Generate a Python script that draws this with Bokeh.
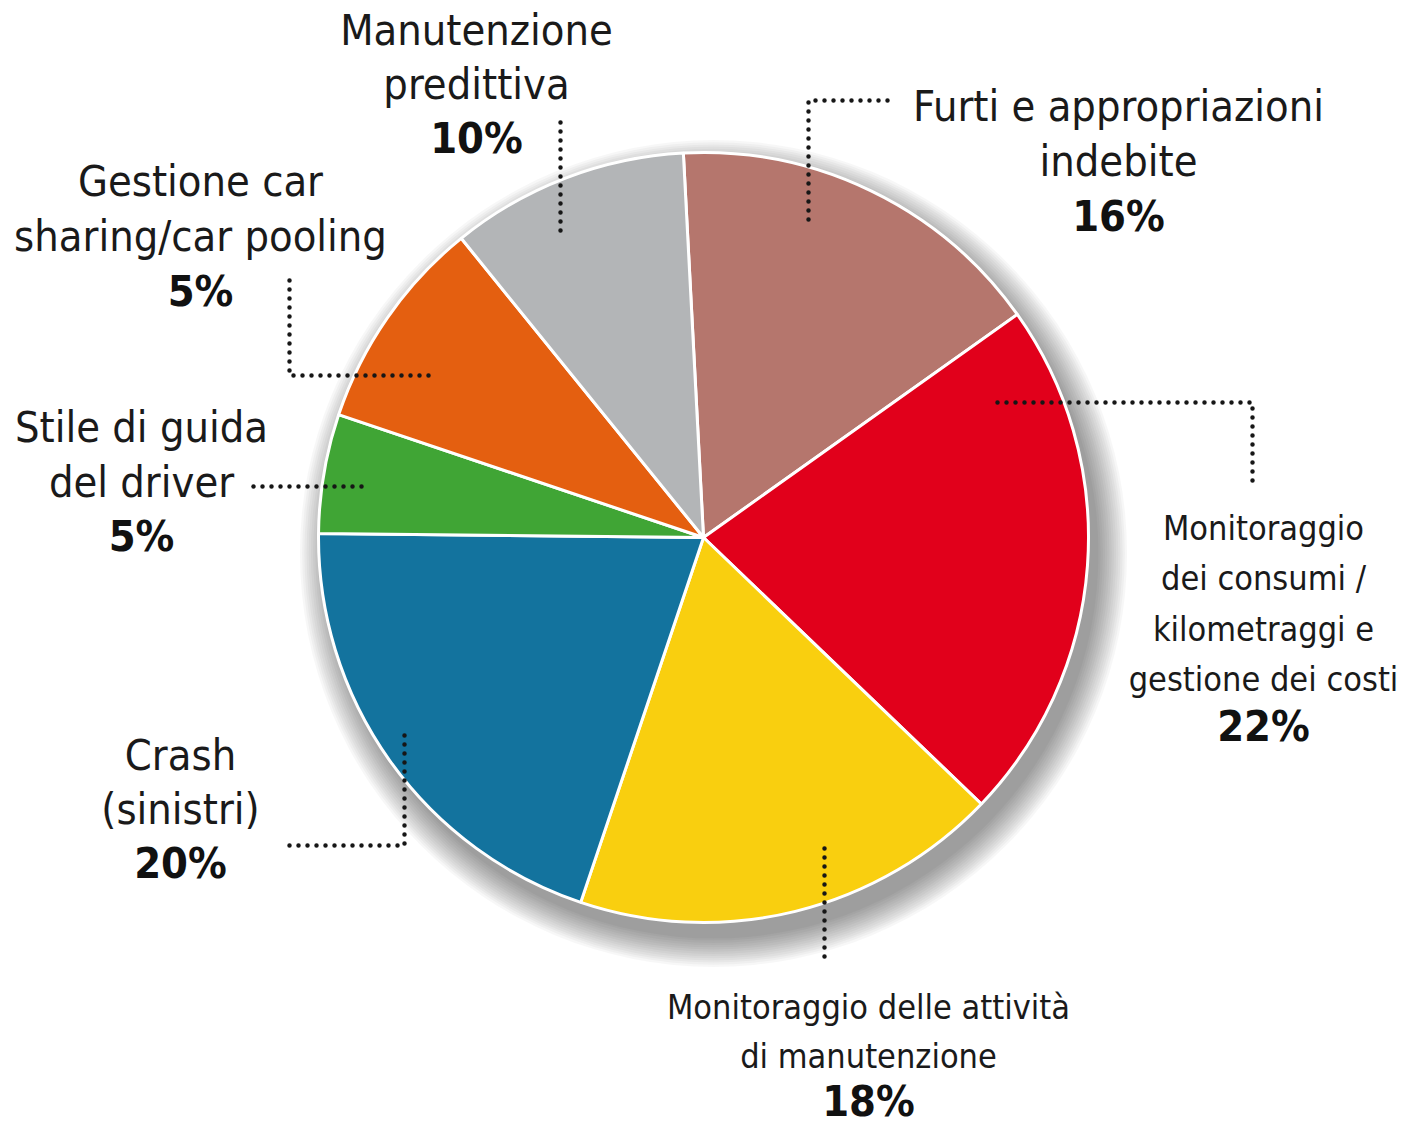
import math
from bokeh.plotting import figure
from bokeh.models import Range1d, ColumnDataSource
from bokeh.core.properties import value
from bokeh.embed import file_html
from bokeh.resources import INLINE

# ---------------- data (clockwise from 12 o'clock) ----------------
categories = [
    "Furti e appropriazioni\nindebite",
    "Monitoraggio\ndei consumi /\nkilometraggi e\ngestione dei costi",
    "Monitoraggio delle attività\ndi manutenzione",
    "Crash\n(sinistri)",
    "Stile di guida\ndel driver",
    "Gestione car\nsharing/car pooling",
    "Manutenzione\npredittiva",
]
# share of the circle that each slice occupies in the picture
shares = [16, 22, 18, 20, 5, 9, 10]
# percentages printed on the chart
pct_labels = ["16%", "22%", "18%", "20%", "5%", "5%", "10%"]

# ---------------- styles / layout ----------------
colors = ["#B5766D", "#E1001B", "#F9CF0F", "#13739E", "#40A535", "#E45F10", "#B3B5B7"]
W, H = 1406, 1125


def Y(py):
    return H - py


cx, cy, R = 703, Y(537), 385
top_deg = 93.0

# label anchors: centre x, first baseline (page px), line gap, font size
label_x = [1118, 1263, 868, 180, 141, 200, 476]
label_y0 = [123, 541, 1020, 772, 444, 198, 47]
label_gap = [55, 50.5, 49, 54, 54.5, 55, 54]
label_size = [43, 34, 34, 43, 43, 43, 43]
PCT_SIZE = 43
BASE_FIX = 0.4  # compensation of the renderer's baseline offset (in em)

# leader lines (page px)
leaders = [
    ([887, 808, 808], [100, 100, 222]),
    ([997, 1252, 1252], [402, 402, 482]),
    ([824, 824], [848, 960]),
    ([289, 404, 404], [845, 845, 733]),
    ([253, 368], [486, 486]),
    ([289, 289, 432], [280, 375, 375]),
    ([560, 560], [122, 235]),
]

FONT = "'DejaVu Sans Condensed', 'Liberation Sans Narrow', 'Roboto Condensed', 'Open Sans', sans-serif"

p = figure(width=W, height=H, x_range=Range1d(0, W), y_range=Range1d(0, H),
           output_backend="svg", toolbar_location=None,
           x_axis_type=None, y_axis_type=None, min_border=0)
p.grid.visible = False
p.outline_line_color = None
p.background_fill_color = "white"
p.border_fill_color = "white"

# soft drop shadow
for k in range(14):
    p.circle(x=cx + 10, y=cy - 16, radius=R + k * 2.2, fill_color="black",
             fill_alpha=0.032, line_color=None)

# wedges
total = float(sum(shares))
starts, ends = [], []
cum = 0.0
for s in shares:
    end = top_deg - cum / total * 360.0
    start = top_deg - (cum + s) / total * 360.0
    starts.append(math.radians(start))
    ends.append(math.radians(end))
    cum += s

src = ColumnDataSource(dict(cat=categories, share=shares, color=colors,
                            start=starts, end=ends))
p.wedge(x=cx, y=cy, radius=R, start_angle="start", end_angle="end",
        fill_color="color", line_color="white", line_width=3, source=src)

# leader lines
p.multi_line(xs=[l[0] for l in leaders], ys=[[Y(v) for v in l[1]] for l in leaders],
             line_color="#161616", line_width=4.5, line_dash="0 9", line_cap="round")

# labels
nx, ny, nt, ns = [], [], [], []
px_, py_, pt = [], [], []
for cat, pct, lx, ly, g, fs in zip(categories, pct_labels, label_x, label_y0,
                                   label_gap, label_size):
    lines = cat.split("\n")
    for i, ln in enumerate(lines):
        nx.append(lx)
        ny.append(Y(ly + i * g - BASE_FIX * fs))
        nt.append(ln)
        ns.append(f"{fs}px")
    px_.append(lx)
    py_.append(Y(ly + len(lines) * g - BASE_FIX * PCT_SIZE))
    pt.append(pct)

nsrc = ColumnDataSource(dict(x=nx, y=ny, text=nt, size=ns))
p.text(x="x", y="y", text="text", source=nsrc, text_align="center",
       text_baseline="alphabetic", text_font=value(FONT), text_font_size="size",
       text_color="#1a1a1a")
p.text(x=px_, y=py_, text=pt, text_align="center", text_baseline="alphabetic",
       text_font=value(FONT), text_font_style="bold",
       text_font_size=f"{PCT_SIZE}px", text_color="#111111")

open("out.html", "w").write(file_html(p, INLINE))
